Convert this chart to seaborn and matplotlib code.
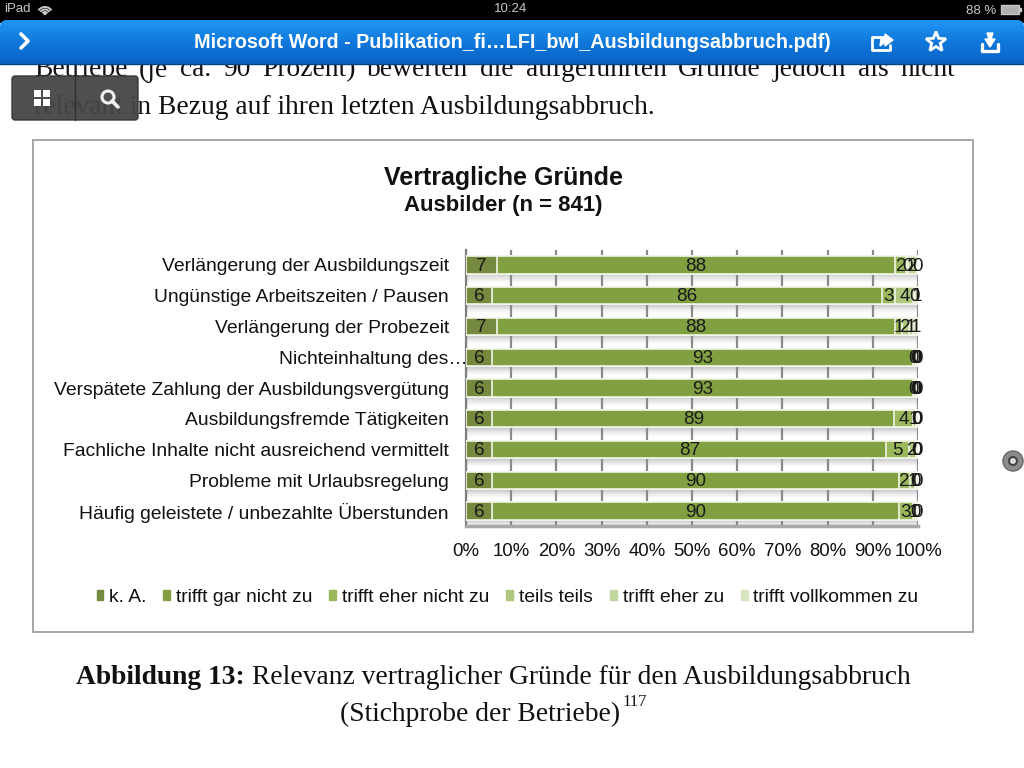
import numpy as np
import pandas as pd
import seaborn as sns
import matplotlib
matplotlib.use("Agg")
import matplotlib.pyplot as plt
from matplotlib.patches import Rectangle, FancyBboxPatch, Circle, Polygon, Arc, Patch

# Kategorien und Werte (Prozent)
categories = [
    "Verlängerung der Ausbildungszeit",
    "Ungünstige Arbeitszeiten / Pausen",
    "Verlängerung der Probezeit",
    "Nichteinhaltung des…",
    "Verspätete Zahlung der Ausbildungsvergütung",
    "Ausbildungsfremde Tätigkeiten",
    "Fachliche Inhalte nicht ausreichend vermittelt",
    "Probleme mit Urlaubsregelung",
    "Häufig geleistete / unbezahlte Überstunden",
]
series_names = ["k. A.", "trifft gar nicht zu", "trifft eher nicht zu",
                "teils teils", "trifft eher zu", "trifft vollkommen zu"]
k_a = [6.8, 5.8, 6.8, 5.8, 5.8, 5.8, 5.8, 5.8, 5.8]
gar_nicht = [88.2, 86.2, 88.2, 93.0, 93.0, 89.0, 87.2, 90.0, 90.0]
eher_nicht = [2.4, 3.0, 1.4, 0.4, 0.4, 4.0, 5.0, 2.4, 3.0]
teils = [0.4, 4.0, 1.6, 0.4, 0.4, 0.7, 1.5, 1.2, 0.6]
eher_zu = [2.0, 0.4, 1.0, 0.2, 0.2, 0.3, 0.3, 0.3, 0.3]
vollkommen = [0.2, 0.6, 1.0, 0.2, 0.2, 0.2, 0.2, 0.3, 0.3]
colors = ["#75893f", "#80a041", "#9bb95c", "#afc77f", "#c4d6a0", "#d9e5c0"]
x_ticks = list(range(0, 101, 10))

W, H = 1024, 768
sns.set_theme(style="white")
plt.rcParams["font.family"] = ["Liberation Sans", "DejaVu Sans"]
fig = plt.figure(figsize=(W / 100, H / 100), dpi=100, facecolor="white")

# Hintergrund in Pixelkoordinaten (Dokument + iPad-Oberflaeche)
bg = fig.add_axes([0, 0, 1, 1], zorder=0)
bg.set_xlim(0, W)
bg.set_ylim(H, 0)
bg.axis("off")


def justified(ax, words, x0, x1, y, size):
    # Blocksatz: Wortabstand gleichmaessig verteilen
    r = fig.canvas.get_renderer()
    items = [ax.text(0, y, w, family="Liberation Serif", fontsize=size, color="#111111",
                     va="center", ha="left", zorder=1) for w in words]
    widths = [t.get_window_extent(r).width for t in items]
    gap = (x1 - x0 - sum(widths)) / (len(words) - 1)
    x = x0
    for t, w in zip(items, widths):
        t.set_x(x)
        x += w + gap


justified(bg, "Betriebe (je ca. 90 Prozent) bewerten die aufgeführten Gründe jedoch als nicht".split(),
          34, 955, 70, 19.8)
bg.text(34, 107, "relevant in Bezug auf ihren letzten Ausbildungsabbruch.", family="Liberation Serif",
        fontsize=19.8, color="#111111", va="center", zorder=1)

# Statusleiste
bg.add_patch(Rectangle((0, 0), W, 22, color="black", zorder=4))
bg.text(4, 9.5, "iPad", color="#c8c8c8", fontsize=9.5, va="center", zorder=5)
for d in [6, 11, 16]:
    bg.add_patch(Arc((45, 15), d, d, theta1=215, theta2=325, color="#c8c8c8", lw=1.4, zorder=5))
bg.add_patch(Circle((45, 13.5), 1, color="#c8c8c8", zorder=5))
bg.text(511, 9.5, "10:24", color="#c8c8c8", fontsize=9.5, ha="center", va="center", zorder=5)
bg.text(966, 10.5, "88 %", color="#c8c8c8", fontsize=9.5, va="center", zorder=5)
bg.add_patch(Rectangle((1001, 5), 18, 9, fc="#b0b0b0", ec="#c8c8c8", lw=1, zorder=5))
bg.add_patch(Rectangle((1019.5, 8), 1.5, 3, color="#c8c8c8", zorder=5))

# Blaue Titelleiste mit Verlauf
bar_patch = FancyBboxPatch((0, 20), W, 60, boxstyle="round,pad=0,rounding_size=7",
                           fc="none", ec="none", zorder=5)
bg.add_patch(bar_patch)
grad = np.linspace(0, 1, 64).reshape(-1, 1)
img = bg.imshow(grad, extent=(0, W, 64, 20), cmap=matplotlib.colors.LinearSegmentedColormap.from_list(
    "blau", ["#2296f3", "#0f78dc", "#0a62c4"]), aspect="auto", zorder=5)
img.set_clip_path(bar_patch)
bg.set_xlim(0, W)
bg.set_ylim(H, 0)
bg.plot([0, W], [64, 64], color="#07407f", lw=1, zorder=6)
bg.text(512, 42, "Microsoft Word - Publikation_fi…LFI_bwl_Ausbildungsabbruch.pdf)", color="white",
        fontweight="bold", fontsize=14.25, ha="center", va="center", zorder=6)
bg.plot([21, 28, 21], [34, 41, 48], color="white", lw=2.6, zorder=6)
# Symbole rechts
bg.plot([884, 872, 872, 890, 890], [37, 37, 50, 50, 45], color="white", lw=2, zorder=6)
bg.add_patch(Polygon([[880, 46], [881, 39], [885, 38], [885, 34], [893, 40], [885, 46], [885, 42]],
                     color="white", zorder=6))
star = [(936 + (10.5 if i % 2 == 0 else 4.5) * np.sin(i * np.pi / 5),
         42 - (10.5 if i % 2 == 0 else 4.5) * np.cos(i * np.pi / 5)) for i in range(10)]
bg.add_patch(Polygon(star, fc="none", ec="white", lw=2, zorder=6))
bg.plot([982, 982, 998, 998], [44, 51, 51, 44], color="white", lw=2.4, zorder=6)
bg.add_patch(Polygon([[987, 33], [993, 33], [991, 39], [995, 39], [990, 47], [985, 39], [989, 39]],
                     color="white", zorder=6))

# Werkzeug-Popup
bg.add_patch(FancyBboxPatch((12, 76), 126, 44, boxstyle="round,pad=0,rounding_size=3",
                            fc="#454545", ec="#333333", lw=1, alpha=0.95, zorder=6))
bg.plot([75, 75], [76, 120], color="#2e2e2e", lw=1, zorder=7)
for sx in [33.5, 42.5]:
    for sy in [89.5, 98.5]:
        bg.add_patch(Rectangle((sx, sy), 7.5, 7.5, fc="white", lw=0, zorder=7))
bg.add_patch(Circle((108, 97), 6, fc="none", ec="#f0f0f0", lw=2.2, zorder=7))
bg.plot([112, 118], [101, 107], color="#f0f0f0", lw=2.6, zorder=7)

# Rahmen des Diagramms
bg.add_patch(Rectangle((33, 140), 940, 492, fc="white", ec="#a6a6a6", lw=1.4, zorder=2))
bg.text(503, 178, "Vertragliche Gründe", fontweight="bold", fontsize=18, color="#111111",
        ha="center", va="center", zorder=3)
bg.text(503, 205, "Ausbilder (n = 841)", fontweight="bold", fontsize=15.9, color="#111111",
        ha="center", va="center", zorder=3)

# Bildunterschrift
bg.text(76, 677, "Abbildung 13:", family="Liberation Serif", fontweight="bold", fontsize=19.8,
        color="#111111", va="center", zorder=3)
bg.text(252, 677, "Relevanz vertraglicher Gründe für den Ausbildungsabbruch", family="Liberation Serif",
        fontsize=19.8, color="#111111", va="center", zorder=3)
bg.text(340, 714, "(Stichprobe der Betriebe)", family="Liberation Serif", fontsize=19.8,
        color="#111111", va="center", zorder=3)
bg.text(622, 702, "117", family="Liberation Serif", fontsize=12, color="#111111", va="center", zorder=3)

# Scroll-Knopf rechts
bg.add_patch(Circle((1013, 461), 10, fc="#8c8c8c", ec="#666666", lw=1, zorder=3))
bg.add_patch(Circle((1013, 461), 4, fc="#dddddd", ec="#444444", lw=1.5, zorder=3))

# Eigentliches Diagramm
ax = fig.add_axes([466 / W, 1 - 526.4 / H, (918 - 466) / W, (526.4 - 249.6) / H], zorder=3)
ax.patch.set_alpha(0)

df = pd.DataFrame({"Grund": categories, series_names[0]: k_a, series_names[1]: gar_nicht,
                   series_names[2]: eher_nicht, series_names[3]: teils,
                   series_names[4]: eher_zu, series_names[5]: vollkommen})
cum = df[series_names].cumsum(axis=1)

# gestapelt: von der groessten Summe nach vorne ueberzeichnen
for name, col in reversed(list(zip(series_names, colors))):
    sns.barplot(data=cum, x=name, y=df["Grund"], color=col, width=0.56, orient="h", ax=ax,
                saturation=1, edgecolor="#f2f6e6", linewidth=1.2, zorder=3)

# Schatten unter den Balken
n_rows = len(categories)
for i in range(n_rows):
    for s in range(8):
        ax.axhspan(i + 0.3 + s * 0.035, i + 0.3 + (s + 1) * 0.035, color="#8f8f98",
                   alpha=0.45 * (1 - s / 8) ** 1.4, lw=0, zorder=0.5)

ax.set_xlim(0, 100)
ax.set_ylim(n_rows - 0.5, -0.5)
ax.set_xticks(x_ticks)
ax.set_xticklabels([f"{t}%" for t in x_ticks], fontsize=13.4, color="#111111")
ax.set_xlabel("")
ax.set_ylabel("")
ax.tick_params(axis="x", length=0, pad=12)
ax.tick_params(axis="y", length=0, pad=12.4, labelsize=13.85, labelcolor="#111111")
ax.grid(axis="x", color="#8a8a8a", lw=1.6, zorder=1)
ax.grid(axis="y", visible=False)
ax.set_axisbelow(True)
for side in ["top", "right"]:
    ax.spines[side].set_visible(False)
ax.spines["left"].set_color("#808080")
ax.spines["left"].set_linewidth(1.6)
ax.spines["bottom"].set_color("#a8a8a8")
ax.spines["bottom"].set_linewidth(2.5)
# langes Label ragt in die Achse hinein
ax.yaxis.get_major_ticks()[3].label1.set_x(19 / 452)

# Wertebeschriftung in Segmentmitte
for name in series_names:
    mids = cum[name] - df[name] / 2
    for i, (m, v) in enumerate(zip(mids, df[name])):
        ax.text(m, i + 0.04, f"{v:.0f}", ha="center", va="center", fontsize=13.6, color="#1a1a1a", zorder=5)

# Legende
handles = [Patch(color=c, label=n) for n, c in zip(series_names, colors)]
fig.legend(handles=handles, ncol=6, loc="center", bbox_to_anchor=(507.5 / W, 1 - 597.5 / H), frameon=False,
           fontsize=13.9, handlelength=0.36, handleheight=0.36, handletextpad=0.3, columnspacing=0.87,
           labelcolor="#111111")

fig.savefig("out.png", dpi=100)
